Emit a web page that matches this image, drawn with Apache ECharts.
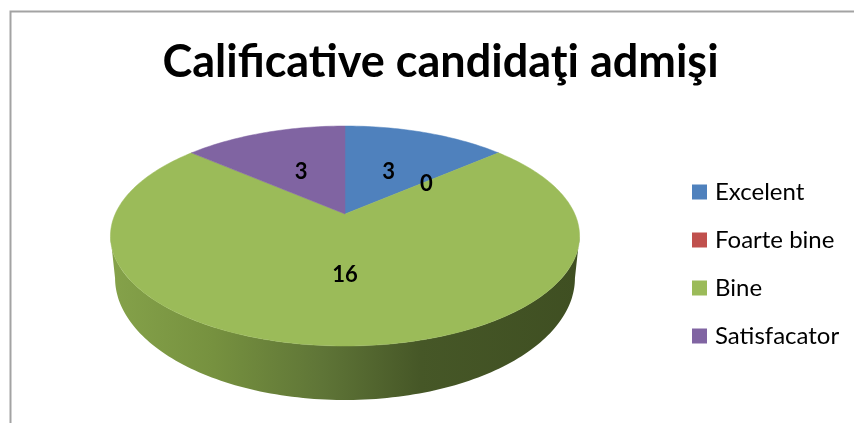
<!DOCTYPE html>
<html><head><meta charset="utf-8">
<style>html,body{margin:0;padding:0;background:#fff}#c{width:854px;height:423px}</style>
<script src="https://cdn.jsdelivr.net/npm/echarts@6/dist/echarts.min.js"></script>
</head><body><div id="c"></div>
<script>
const titleText = 'Calificative candidaţi admişi';
const categories = ['Excelent', 'Foarte bine', 'Bine', 'Satisfacator'];
const values = [3, 0, 16, 3];
const colors = ['#4f81bd', '#c0504d', '#9bbb59', '#8064a2'];

const total = values.reduce((a, b) => a + b, 0);
const FONT = 'Lato';
const persp = 0.2, cx = 345;
// perspective projection of the pie disc: top face and bottom rim
const top_ = {a: -62.8, b: 214, d: 229.8};
const bot_ = {a: -66.4, b: 253.6, d: 225.3};
function proj(p, r, t) {
  const u = r * Math.sin(t), v = r * Math.cos(t), w = 1 + persp * v;
  return [cx + p.d * u / w, (p.a * v + p.b) / w];
}
function arc(p, t0, t1) {
  const n = Math.max(1, Math.ceil((t1 - t0) / 0.02)), out = [];
  for (let i = 0; i <= n; i++) out.push(proj(p, 1, t0 + (t1 - t0) * i / n));
  return out;
}
const wallGrad = {type: 'linear', x: 0, y: 0, x2: 1, y2: 0, colorStops: [
  {offset: 0, color: '#85a24a'}, {offset: 0.22, color: '#76913f'}, {offset: 0.45, color: '#5f7537'},
  {offset: 0.66, color: '#465727'}, {offset: 1, color: '#3f4f22'}]};

function renderSlice(idx) {
  return function (params, api) {
    const val = api.value(0);
    const before = values.slice(0, idx).reduce((a, b) => a + b, 0);
    const t0 = before / total * 2 * Math.PI, t1 = (before + val) / total * 2 * Math.PI;
    const children = [];
    if (val > 0) {
      // visible wall: part of the slice below the widest line of the ellipse
      const tanA = Math.acos(-persp), wa = Math.max(t0, tanA), wb = Math.min(t1, 2 * Math.PI - tanA);
      if (wb > wa) {
        children.push({type: 'polygon', z2: 1,
          shape: {points: arc(top_, wa, wb).concat(arc(bot_, wa, wb).reverse())},
          style: {fill: wallGrad}});
      }
      children.push({type: 'polygon', z2: 5,
        shape: {points: [proj(top_, 0, 0)].concat(arc(top_, t0, t1))},
        style: {fill: colors[idx], stroke: colors[idx], lineWidth: 0.5}});
    }
    const mid = proj(top_, 0.5, (t0 + t1) / 2);
    children.push({type: 'text', z2: 50,
      x: mid[0], y: mid[1] + 2,
      style: {text: String(val), fill: '#000', font: 'bold 22px ' + FONT, textAlign: 'center', textVerticalAlign: 'middle'}});
    return {type: 'group', children};
  };
}

const chart = echarts.init(document.getElementById('c'), null, {renderer: 'canvas'});
chart.setOption({
  animation: false,
  backgroundColor: '#fff',
  title: {text: titleText, left: 435.5, top: 35, textAlign: 'center',
    textStyle: {fontFamily: FONT, fontWeight: 'bold', fontSize: 45, color: '#000'}},
  legend: {orient: 'vertical', left: 687, top: 175, itemWidth: 15, itemHeight: 15, itemGap: 24, icon: 'rect',
    data: categories,
    textStyle: {fontFamily: FONT, fontSize: 24, color: '#000', padding: [0, 0, 0, 3], lineHeight: 23}},
  graphic: [{type: 'polyline', silent: true, z: 0,
    shape: {points: [[10.5, 423], [10.5, 11.5], [854, 11.5]]},
    style: {stroke: '#a3a3a3', lineWidth: 2, fill: 'none'}}],
  series: categories.map((name, i) => ({
    type: 'custom', name, coordinateSystem: 'none',
    itemStyle: {color: colors[i]},
    data: [[values[i]]],
    renderItem: renderSlice(i)
  }))
});
</script></body></html>
